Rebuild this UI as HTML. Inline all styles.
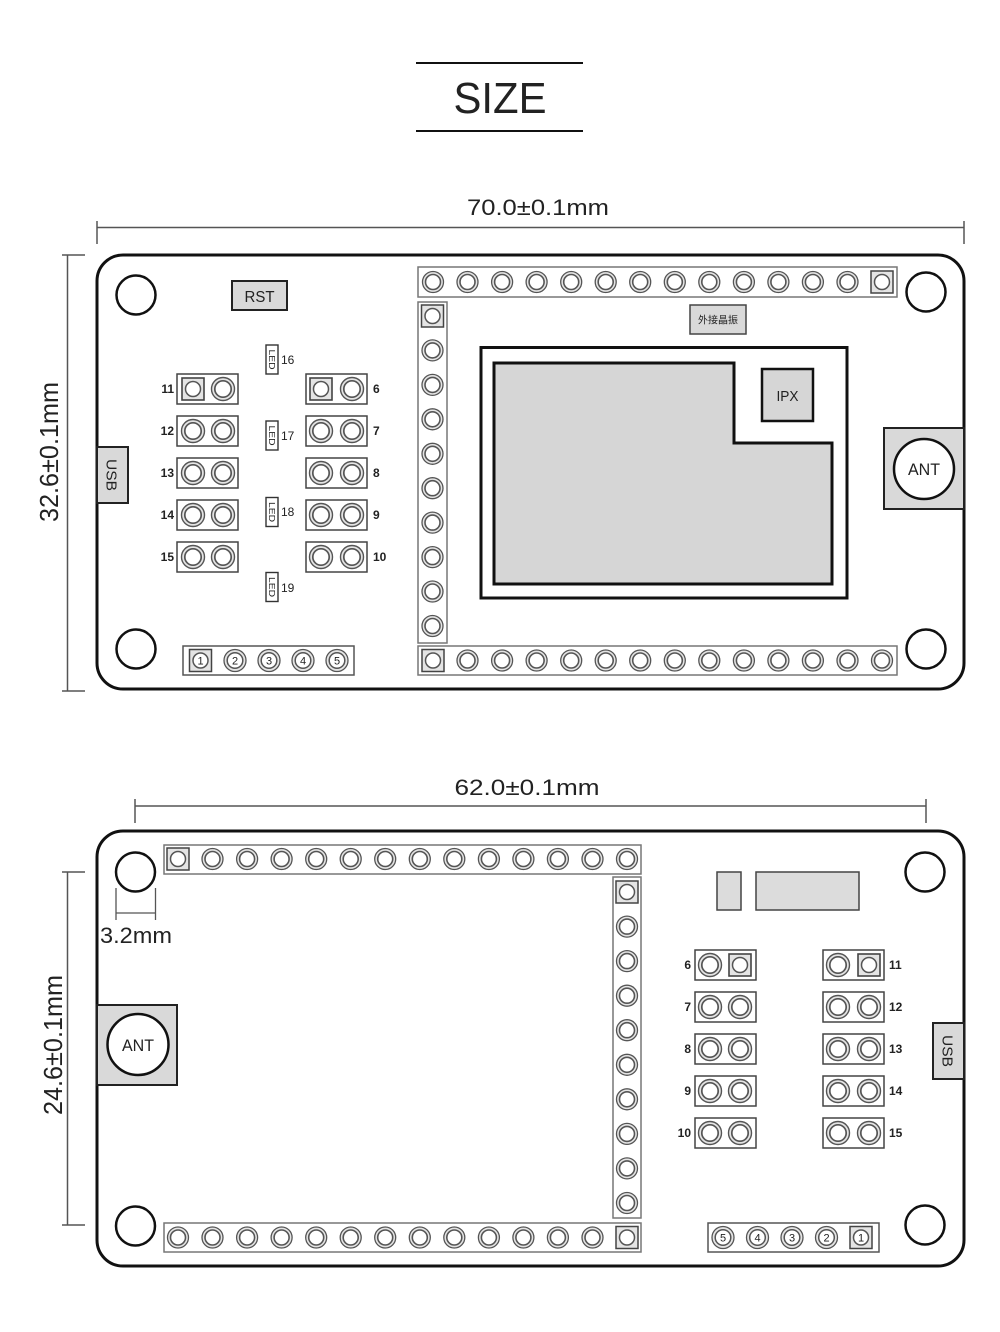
<!DOCTYPE html>
<html><head><meta charset="utf-8"><style>
html,body{margin:0;padding:0;background:#fff;}
svg{display:block;}
text{font-family:"Liberation Sans","Noto Sans CJK SC",sans-serif;fill:#222;}
</style></head><body>
<svg width="1000" height="1332" viewBox="0 0 1000 1332" xmlns="http://www.w3.org/2000/svg">
<defs>
<g id="p"><circle r="10.5" fill="#e4e4e4" stroke="#555" stroke-width="1.3"/><circle r="7.5" fill="#fff" stroke="#555" stroke-width="1.6"/></g>
<g id="s"><rect x="-11" y="-11" width="22" height="22" fill="#e4e4e4" stroke="#444" stroke-width="1.5"/><circle r="7.5" fill="#fff" stroke="#555" stroke-width="1.5"/></g>
<g id="pj"><circle r="11.5" fill="#e4e4e4" stroke="#555" stroke-width="1.4"/><circle r="8.2" fill="#fff" stroke="#555" stroke-width="1.7"/></g>
<g id="sj"><rect x="-11" y="-11" width="22" height="22" fill="#e4e4e4" stroke="#444" stroke-width="1.6"/><circle r="7.5" fill="#fff" stroke="#555" stroke-width="1.5"/></g>
<g id="led"><rect x="-6" y="-14.5" width="12" height="29" fill="#fff" stroke="#333" stroke-width="1.4"/><text transform="rotate(90)" x="0" y="3" font-size="8" text-anchor="middle" textLength="20" lengthAdjust="spacingAndGlyphs">LED</text></g>
</defs>

<!-- Title -->
<line x1="416" y1="63" x2="583" y2="63" stroke="#111" stroke-width="2"/>
<text x="500" y="113" font-size="44" text-anchor="middle" textLength="93" lengthAdjust="spacingAndGlyphs">SIZE</text>
<line x1="416" y1="131" x2="583" y2="131" stroke="#111" stroke-width="2"/>

<!-- ============ TOP BOARD ============ -->
<text x="538" y="215" font-size="22" text-anchor="middle" textLength="142" lengthAdjust="spacingAndGlyphs">70.0±0.1mm</text>
<line x1="97" y1="227.5" x2="964" y2="227.5" stroke="#555" stroke-width="1.5"/>
<line x1="97" y1="221" x2="97" y2="244" stroke="#555" stroke-width="1.5"/>
<line x1="964" y1="221" x2="964" y2="244" stroke="#555" stroke-width="1.5"/>

<line x1="67.5" y1="255" x2="67.5" y2="691" stroke="#555" stroke-width="1.5"/>
<line x1="62" y1="255" x2="85" y2="255" stroke="#555" stroke-width="1.5"/>
<line x1="62" y1="691" x2="85" y2="691" stroke="#555" stroke-width="1.5"/>
<text transform="translate(58,452) rotate(-90)" font-size="26" text-anchor="middle" textLength="140" lengthAdjust="spacingAndGlyphs">32.6±0.1mm</text>

<rect x="97" y="255" width="867" height="434" rx="26" ry="26" fill="#fff" stroke="#111" stroke-width="3"/>

<!-- holes -->
<circle cx="136" cy="295" r="19.5" fill="#fff" stroke="#111" stroke-width="2.5"/>
<circle cx="926" cy="292" r="19.5" fill="#fff" stroke="#111" stroke-width="2.5"/>
<circle cx="136" cy="649" r="19.5" fill="#fff" stroke="#111" stroke-width="2.5"/>
<circle cx="926" cy="649" r="19.5" fill="#fff" stroke="#111" stroke-width="2.5"/>

<!-- RST -->
<rect x="232" y="281" width="55" height="29" fill="#d9d9d9" stroke="#222" stroke-width="2"/>
<text x="259.5" y="302" font-size="16" text-anchor="middle" textLength="30" lengthAdjust="spacingAndGlyphs">RST</text>

<!-- USB left -->
<rect x="97" y="447" width="31" height="56" fill="#d9d9d9" stroke="#222" stroke-width="2"/>
<text transform="translate(106.5,475) rotate(90)" font-size="15" text-anchor="middle" textLength="32" lengthAdjust="spacingAndGlyphs">USB</text>

<!-- LEDs -->
<use href="#led" x="272" y="359.5"/>
<use href="#led" x="272" y="435.5"/>
<use href="#led" x="272" y="512"/>
<use href="#led" x="272" y="587"/>
<g font-size="12">
<text x="281" y="364">16</text>
<text x="281" y="440">17</text>
<text x="281" y="516">18</text>
<text x="281" y="592">19</text>
</g>

<!-- jumpers top board -->
<g fill="#fff" stroke="#444" stroke-width="1.5">
<rect x="177" y="374" width="61" height="30"/><rect x="306" y="374" width="61" height="30"/>
<rect x="177" y="416" width="61" height="30"/><rect x="306" y="416" width="61" height="30"/>
<rect x="177" y="458" width="61" height="30"/><rect x="306" y="458" width="61" height="30"/>
<rect x="177" y="500" width="61" height="30"/><rect x="306" y="500" width="61" height="30"/>
<rect x="177" y="542" width="61" height="30"/><rect x="306" y="542" width="61" height="30"/>
</g>
<use href="#sj" x="193" y="389"/><use href="#pj" x="223" y="389"/>
<use href="#sj" x="321" y="389"/><use href="#pj" x="352" y="389"/>
<use href="#pj" x="193" y="431"/><use href="#pj" x="223" y="431"/>
<use href="#pj" x="321" y="431"/><use href="#pj" x="352" y="431"/>
<use href="#pj" x="193" y="473"/><use href="#pj" x="223" y="473"/>
<use href="#pj" x="321" y="473"/><use href="#pj" x="352" y="473"/>
<use href="#pj" x="193" y="515"/><use href="#pj" x="223" y="515"/>
<use href="#pj" x="321" y="515"/><use href="#pj" x="352" y="515"/>
<use href="#pj" x="193" y="557"/><use href="#pj" x="223" y="557"/>
<use href="#pj" x="321" y="557"/><use href="#pj" x="352" y="557"/>
<g font-size="12" style="font-weight:bold;fill:#333">
<text x="174" y="393" text-anchor="end">11</text>
<text x="174" y="435" text-anchor="end">12</text>
<text x="174" y="477" text-anchor="end">13</text>
<text x="174" y="519" text-anchor="end">14</text>
<text x="174" y="561" text-anchor="end">15</text>
<text x="373" y="393">6</text>
<text x="373" y="435">7</text>
<text x="373" y="477">8</text>
<text x="373" y="519">9</text>
<text x="373" y="561">10</text>
</g>

<!-- 5-pin header top board -->
<rect x="183" y="646" width="171" height="29" fill="#fff" stroke="#555" stroke-width="1.5"/>
<rect x="189.5" y="649.5" width="22" height="22" fill="#e4e4e4" stroke="#444" stroke-width="1.5"/>
<circle cx="200.5" cy="660.5" r="7.5" fill="#fff" stroke="#555" stroke-width="1.5"/>
<g fill="#e4e4e4" stroke="#555" stroke-width="1.3">
<circle cx="235" cy="660.5" r="11"/><circle cx="269" cy="660.5" r="11"/><circle cx="303" cy="660.5" r="11"/><circle cx="337" cy="660.5" r="11"/>
</g>
<g fill="#fff" stroke="#555" stroke-width="1.5">
<circle cx="235" cy="660.5" r="7.8"/><circle cx="269" cy="660.5" r="7.8"/><circle cx="303" cy="660.5" r="7.8"/><circle cx="337" cy="660.5" r="7.8"/>
</g>
<g font-size="11" text-anchor="middle">
<text x="200.5" y="664.5">1</text><text x="235" y="664.5">2</text><text x="269" y="664.5">3</text><text x="303" y="664.5">4</text><text x="337" y="664.5">5</text>
</g>

<!-- headers top board -->
<rect x="418" y="267" width="479" height="30" fill="#fff" stroke="#777" stroke-width="1.5"/>
<rect x="418" y="302" width="29" height="341" fill="#fff" stroke="#777" stroke-width="1.5"/>
<rect x="418" y="646" width="479" height="29" fill="#fff" stroke="#777" stroke-width="1.5"/>

<use href="#p" x="433" y="282"/><use href="#p" x="467.5" y="282"/><use href="#p" x="502.1" y="282"/><use href="#p" x="536.6" y="282"/><use href="#p" x="571.2" y="282"/><use href="#p" x="605.7" y="282"/><use href="#p" x="640.2" y="282"/><use href="#p" x="674.8" y="282"/><use href="#p" x="709.3" y="282"/><use href="#p" x="743.9" y="282"/><use href="#p" x="778.4" y="282"/><use href="#p" x="812.9" y="282"/><use href="#p" x="847.5" y="282"/><use href="#s" x="882" y="282"/>

<use href="#s" x="432.5" y="316"/><use href="#p" x="432.5" y="350.4"/><use href="#p" x="432.5" y="384.9"/><use href="#p" x="432.5" y="419.3"/><use href="#p" x="432.5" y="453.8"/><use href="#p" x="432.5" y="488.2"/><use href="#p" x="432.5" y="522.6"/><use href="#p" x="432.5" y="557.1"/><use href="#p" x="432.5" y="591.5"/><use href="#p" x="432.5" y="626"/>

<use href="#s" x="433" y="660.5"/><use href="#p" x="467.5" y="660.5"/><use href="#p" x="502.1" y="660.5"/><use href="#p" x="536.6" y="660.5"/><use href="#p" x="571.2" y="660.5"/><use href="#p" x="605.7" y="660.5"/><use href="#p" x="640.2" y="660.5"/><use href="#p" x="674.8" y="660.5"/><use href="#p" x="709.3" y="660.5"/><use href="#p" x="743.9" y="660.5"/><use href="#p" x="778.4" y="660.5"/><use href="#p" x="812.9" y="660.5"/><use href="#p" x="847.5" y="660.5"/><use href="#p" x="882" y="660.5"/>

<!-- crystal label -->
<rect x="690" y="305" width="56" height="29" fill="#d9d9d9" stroke="#444" stroke-width="1.5"/>
<text x="718" y="323.5" font-size="10" text-anchor="middle" style="font-family:'Noto Sans CJK SC','WenQuanYi Zen Hei',sans-serif">外接晶振</text>

<!-- module -->
<rect x="481" y="347.5" width="366" height="250.5" fill="#fff" stroke="#111" stroke-width="3"/>
<polygon points="494,363 734,363 734,443 832,443 832,584 494,584" fill="#d6d6d6" stroke="#111" stroke-width="3"/>
<rect x="762" y="369" width="51" height="52" fill="#d6d6d6" stroke="#111" stroke-width="2.5"/>
<text x="787.5" y="401" font-size="15" text-anchor="middle" textLength="22" lengthAdjust="spacingAndGlyphs">IPX</text>

<!-- ANT top board -->
<rect x="884" y="428" width="80" height="81" fill="#d9d9d9" stroke="#222" stroke-width="2"/>
<circle cx="924" cy="469" r="30" fill="#fff" stroke="#111" stroke-width="2.5"/>
<text x="924" y="475" font-size="17" text-anchor="middle" textLength="32" lengthAdjust="spacingAndGlyphs">ANT</text>

<!-- ============ BOTTOM BOARD ============ -->
<text x="527" y="795" font-size="22" text-anchor="middle" textLength="145" lengthAdjust="spacingAndGlyphs">62.0±0.1mm</text>
<line x1="135" y1="806" x2="926" y2="806" stroke="#555" stroke-width="1.5"/>
<line x1="135" y1="799" x2="135" y2="823" stroke="#555" stroke-width="1.5"/>
<line x1="926" y1="799" x2="926" y2="823" stroke="#555" stroke-width="1.5"/>

<line x1="67.5" y1="872" x2="67.5" y2="1225" stroke="#555" stroke-width="1.5"/>
<line x1="62" y1="872" x2="85" y2="872" stroke="#555" stroke-width="1.5"/>
<line x1="62" y1="1225" x2="85" y2="1225" stroke="#555" stroke-width="1.5"/>
<text transform="translate(62,1045) rotate(-90)" font-size="26" text-anchor="middle" textLength="140" lengthAdjust="spacingAndGlyphs">24.6±0.1mm</text>

<rect x="97" y="831" width="867" height="435" rx="26" ry="26" fill="#fff" stroke="#111" stroke-width="3"/>

<circle cx="135.5" cy="872" r="19.5" fill="#fff" stroke="#111" stroke-width="2.5"/>
<circle cx="925" cy="872" r="19.5" fill="#fff" stroke="#111" stroke-width="2.5"/>
<circle cx="135.5" cy="1226" r="19.5" fill="#fff" stroke="#111" stroke-width="2.5"/>
<circle cx="925" cy="1225" r="19.5" fill="#fff" stroke="#111" stroke-width="2.5"/>

<!-- 3.2mm -->
<line x1="116" y1="888" x2="116" y2="920" stroke="#555" stroke-width="1.3"/>
<line x1="155.5" y1="888" x2="155.5" y2="920" stroke="#555" stroke-width="1.3"/>
<line x1="116" y1="913" x2="155.5" y2="913" stroke="#555" stroke-width="1.3"/>
<text x="100" y="943" font-size="22" textLength="72" lengthAdjust="spacingAndGlyphs">3.2mm</text>

<!-- ANT bottom -->
<rect x="97" y="1005" width="80" height="80" fill="#d9d9d9" stroke="#222" stroke-width="2"/>
<circle cx="138" cy="1044.5" r="30.5" fill="#fff" stroke="#111" stroke-width="2.5"/>
<text x="138" y="1051" font-size="17" text-anchor="middle" textLength="32" lengthAdjust="spacingAndGlyphs">ANT</text>

<!-- headers bottom board -->
<rect x="164" y="845" width="477" height="29" fill="#fff" stroke="#777" stroke-width="1.5"/>
<rect x="613" y="877" width="28" height="341" fill="#fff" stroke="#777" stroke-width="1.5"/>
<rect x="164" y="1223" width="477" height="29" fill="#fff" stroke="#777" stroke-width="1.5"/>

<use href="#s" x="178" y="859"/><use href="#p" x="212.5" y="859"/><use href="#p" x="247.1" y="859"/><use href="#p" x="281.6" y="859"/><use href="#p" x="316.2" y="859"/><use href="#p" x="350.7" y="859"/><use href="#p" x="385.2" y="859"/><use href="#p" x="419.8" y="859"/><use href="#p" x="454.3" y="859"/><use href="#p" x="488.9" y="859"/><use href="#p" x="523.4" y="859"/><use href="#p" x="557.9" y="859"/><use href="#p" x="592.5" y="859"/><use href="#p" x="627" y="859"/>

<use href="#s" x="627" y="892"/><use href="#p" x="627" y="926.6"/><use href="#p" x="627" y="961.1"/><use href="#p" x="627" y="995.7"/><use href="#p" x="627" y="1030.2"/><use href="#p" x="627" y="1064.8"/><use href="#p" x="627" y="1099.3"/><use href="#p" x="627" y="1133.9"/><use href="#p" x="627" y="1168.4"/><use href="#p" x="627" y="1203"/>

<use href="#p" x="178" y="1237.5"/><use href="#p" x="212.5" y="1237.5"/><use href="#p" x="247.1" y="1237.5"/><use href="#p" x="281.6" y="1237.5"/><use href="#p" x="316.2" y="1237.5"/><use href="#p" x="350.7" y="1237.5"/><use href="#p" x="385.2" y="1237.5"/><use href="#p" x="419.8" y="1237.5"/><use href="#p" x="454.3" y="1237.5"/><use href="#p" x="488.9" y="1237.5"/><use href="#p" x="523.4" y="1237.5"/><use href="#p" x="557.9" y="1237.5"/><use href="#p" x="592.5" y="1237.5"/><use href="#s" x="627" y="1237.5"/>

<!-- gray parts -->
<rect x="717" y="872" width="24" height="38" fill="#dcdcdc" stroke="#444" stroke-width="1.5"/>
<rect x="756" y="872" width="103" height="38" fill="#dcdcdc" stroke="#444" stroke-width="1.5"/>

<!-- jumpers bottom board -->
<g fill="#fff" stroke="#444" stroke-width="1.5">
<rect x="695" y="950" width="61" height="30"/><rect x="823" y="950" width="61" height="30"/>
<rect x="695" y="992" width="61" height="30"/><rect x="823" y="992" width="61" height="30"/>
<rect x="695" y="1034" width="61" height="30"/><rect x="823" y="1034" width="61" height="30"/>
<rect x="695" y="1076" width="61" height="30"/><rect x="823" y="1076" width="61" height="30"/>
<rect x="695" y="1118" width="61" height="30"/><rect x="823" y="1118" width="61" height="30"/>
</g>
<use href="#pj" x="710" y="965"/><use href="#sj" x="740" y="965"/>
<use href="#pj" x="838" y="965"/><use href="#sj" x="869" y="965"/>
<use href="#pj" x="710" y="1007"/><use href="#pj" x="740" y="1007"/>
<use href="#pj" x="838" y="1007"/><use href="#pj" x="869" y="1007"/>
<use href="#pj" x="710" y="1049"/><use href="#pj" x="740" y="1049"/>
<use href="#pj" x="838" y="1049"/><use href="#pj" x="869" y="1049"/>
<use href="#pj" x="710" y="1091"/><use href="#pj" x="740" y="1091"/>
<use href="#pj" x="838" y="1091"/><use href="#pj" x="869" y="1091"/>
<use href="#pj" x="710" y="1133"/><use href="#pj" x="740" y="1133"/>
<use href="#pj" x="838" y="1133"/><use href="#pj" x="869" y="1133"/>
<g font-size="12" style="font-weight:bold;fill:#333">
<text x="691" y="969" text-anchor="end">6</text>
<text x="691" y="1011" text-anchor="end">7</text>
<text x="691" y="1053" text-anchor="end">8</text>
<text x="691" y="1095" text-anchor="end">9</text>
<text x="691" y="1137" text-anchor="end">10</text>
<text x="889" y="969">11</text>
<text x="889" y="1011">12</text>
<text x="889" y="1053">13</text>
<text x="889" y="1095">14</text>
<text x="889" y="1137">15</text>
</g>

<!-- USB right -->
<rect x="933" y="1023" width="31" height="56" fill="#d9d9d9" stroke="#222" stroke-width="2"/>
<text transform="translate(942.5,1051) rotate(90)" font-size="15" text-anchor="middle" textLength="32" lengthAdjust="spacingAndGlyphs">USB</text>

<!-- 5-pin header bottom board -->
<rect x="708" y="1223" width="171" height="29" fill="#fff" stroke="#555" stroke-width="1.5"/>
<g fill="#e4e4e4" stroke="#555" stroke-width="1.3">
<circle cx="723" cy="1237.5" r="11"/><circle cx="757.5" cy="1237.5" r="11"/><circle cx="792" cy="1237.5" r="11"/><circle cx="826.5" cy="1237.5" r="11"/>
</g>
<g fill="#fff" stroke="#555" stroke-width="1.5">
<circle cx="723" cy="1237.5" r="7.8"/><circle cx="757.5" cy="1237.5" r="7.8"/><circle cx="792" cy="1237.5" r="7.8"/><circle cx="826.5" cy="1237.5" r="7.8"/>
</g>
<rect x="850" y="1226.5" width="22" height="22" fill="#e4e4e4" stroke="#444" stroke-width="1.5"/>
<circle cx="861" cy="1237.5" r="7.5" fill="#fff" stroke="#555" stroke-width="1.5"/>
<g font-size="11" text-anchor="middle">
<text x="723" y="1241.5">5</text><text x="757.5" y="1241.5">4</text><text x="792" y="1241.5">3</text><text x="826.5" y="1241.5">2</text><text x="861" y="1241.5">1</text>
</g>
</svg>
</body></html>
